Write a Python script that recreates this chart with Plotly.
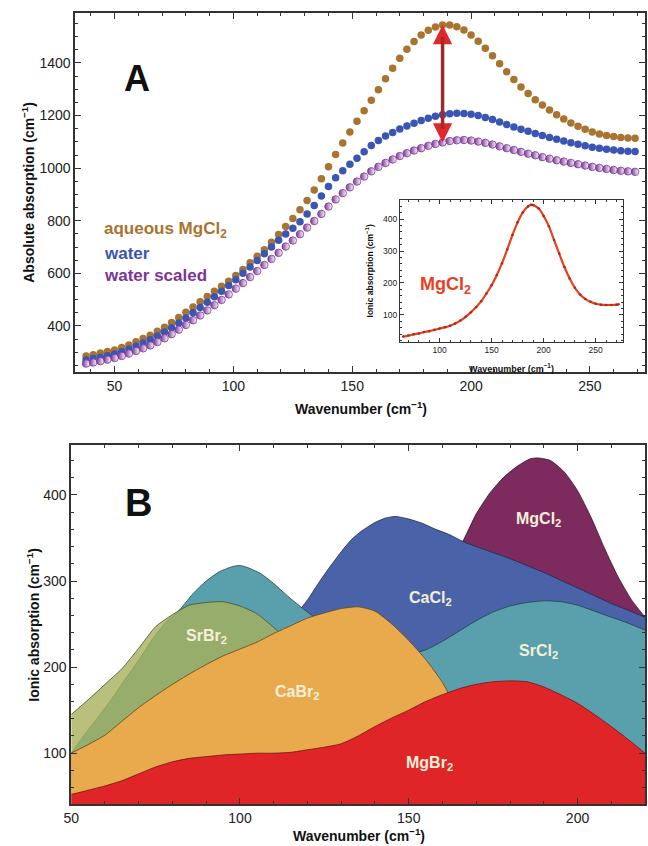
import plotly.graph_objects as go

W, H = 648, 846

# ---------------- Panel A data (absolute absorption, cm^-1) ----------------
wn_a = [38, 41, 44, 47, 50, 53, 56, 59, 62, 65,
        68, 71, 74, 77, 80, 83, 86, 89, 92, 95,
        98, 101, 104, 107, 110, 113, 116, 119, 122, 125,
        128, 131, 134, 137, 140, 143, 146, 149, 152, 155,
        158, 161, 164, 167, 170, 173, 176, 179, 182, 185,
        188, 191, 194, 197, 200, 203, 206, 209, 212, 215,
        218, 221, 224, 227, 230, 233, 236, 239, 242, 245,
        248, 251, 254, 257, 260, 263, 266, 269]

aqueous_mgcl2 = [286, 291, 297, 303, 309, 318, 328, 340, 352, 365,
                 380, 395, 413, 432, 452, 472, 492, 512, 532, 551,
                 570, 592, 615, 640, 665, 690, 718, 748, 778, 809,
                 842, 877, 917, 960, 1005, 1052, 1096, 1138, 1178, 1218,
                 1258, 1298, 1340, 1380, 1418, 1452, 1482, 1506, 1524, 1537,
                 1544, 1544, 1538, 1525, 1506, 1483, 1456, 1427, 1397, 1367,
                 1337, 1309, 1284, 1260, 1240, 1221, 1203, 1187, 1172, 1159,
                 1148, 1138, 1130, 1124, 1120, 1117, 1115, 1114]

water = [271, 276, 281, 287, 293, 302, 312, 323, 335, 348,
         362, 377, 393, 411, 430, 450, 470, 490, 511, 532,
         554, 576, 600, 624, 649, 675, 700, 726, 750, 772,
         796, 826, 858, 894, 930, 964, 990, 1015, 1038, 1062,
         1086, 1105, 1122, 1136, 1149, 1160, 1171, 1181, 1190, 1197,
         1203, 1207, 1209, 1208, 1205, 1200, 1193, 1185, 1176, 1166,
         1157, 1148, 1140, 1132, 1124, 1117, 1110, 1103, 1097, 1091,
         1085, 1080, 1076, 1072, 1069, 1066, 1064, 1063]

water_scaled = [257, 261, 266, 272, 278, 286, 295, 305, 315, 326,
                339, 353, 369, 386, 404, 422, 440, 459, 479, 499,
                520, 542, 563, 586, 609, 632, 655, 678, 702, 725,
                749, 774, 799, 826, 854, 881, 905, 927, 949, 968,
                988, 1005, 1020, 1033, 1046, 1057, 1067, 1076, 1085, 1092,
                1098, 1103, 1106, 1107, 1105, 1101, 1096, 1090, 1083, 1076,
                1069, 1062, 1055, 1049, 1042, 1036, 1030, 1025, 1020, 1015,
                1010, 1005, 1001, 997, 993, 990, 988, 986]

# Inset: ionic absorption of MgCl2
wn_inset = [65, 70, 75, 80, 85, 90, 95, 100, 105, 110, 115, 120, 125, 130, 135,
            140, 145, 150, 155, 160, 165, 170, 175, 180, 185, 188, 190, 195, 200,
            205, 210, 215, 220, 225, 230, 235, 240, 245, 250, 255, 260, 265, 270, 272]
ionic_mgcl2 = [32, 35, 39, 42, 46, 49, 53, 57, 61, 66, 73, 82, 94, 108, 124,
               143, 167, 193, 225, 262, 305, 350, 390, 421, 440, 445, 444, 434, 410,
               378, 335, 292, 250, 214, 185, 164, 150, 141, 135, 132, 131, 131, 132, 133]

# ---------------- Panel B data (ionic absorption, cm^-1) ----------------
mgcl2_x = [164, 166, 170, 174, 178, 182, 186, 188, 190, 192, 196, 200, 204, 208, 212, 216, 220]
mgcl2_y = [335, 346, 378, 402, 420, 433, 442, 443, 442, 440, 427, 405, 374, 338, 305, 278, 258]

cacl2_x = [118, 120, 123, 126, 130, 133, 136, 140, 143, 146, 150, 154, 158, 162, 166,
           170, 175, 180, 185, 190, 195, 200, 205, 210, 215, 220]
cacl2_y = [268, 278, 296, 313, 334, 348, 358, 368, 373, 375, 372, 367, 360, 354, 346,
           340, 333, 326, 318, 310, 301, 292, 283, 274, 266, 258]

srcl2_x = [50, 54, 58, 62, 66, 70, 74, 78, 82, 86, 90, 94, 98, 100, 102, 106, 110, 114,
           118, 122, 126, 130, 135, 140, 145, 150, 155, 160, 165, 170, 175, 180, 185,
           190, 195, 200, 205, 210, 215, 220]
srcl2_y = [100, 122, 142, 163, 186, 208, 232, 252, 266, 285, 300, 311, 317, 318, 316, 309,
           297, 283, 270, 258, 246, 234, 223, 216, 213, 215, 220, 230, 242, 254, 264, 271,
           275, 277, 276, 272, 265, 258, 251, 243]

srbr2_x = [50, 55, 60, 65, 70, 75, 80, 85, 90, 95, 100, 105, 110, 115]
srbr2_y = [145, 162, 180, 198, 222, 247, 261, 272, 275, 276, 271, 262, 246, 228]

cabr2_x = [50, 55, 60, 65, 70, 75, 80, 85, 90, 95, 100, 105, 110, 115, 120, 125, 130,
           135, 140, 145, 150, 155, 160, 163]
cabr2_y = [100, 110, 121, 137, 153, 167, 180, 192, 203, 213, 221, 229, 239, 248, 257,
           263, 268, 270, 265, 250, 231, 209, 182, 160]

mgbr2_x = [50, 55, 60, 65, 70, 75, 80, 85, 90, 95, 100, 105, 110, 115, 120, 125, 130,
           135, 140, 145, 150, 155, 160, 165, 170, 175, 180, 185, 190, 195, 200, 205,
           210, 215, 220]
mgbr2_y = [52, 57, 62, 68, 76, 84, 90, 94, 96, 98, 99, 100, 100, 101, 104, 107, 111,
           120, 131, 141, 150, 160, 168, 175, 180, 183, 184, 183, 177, 168, 158, 145,
           131, 116, 100]

# ---------------- styling ----------------
FONT = "Liberation Sans, Arial, sans-serif"
C_BROWN = "#a8742f"
C_BLUE = "#3b55b4"
C_PURPLE = "#7b3596"
C_RED_INSET = "#e8401f"
FRAME = "#333333"

fig = go.Figure()

# Panel A traces
fig.add_trace(go.Scatter(x=wn_a, y=aqueous_mgcl2, mode="markers", xaxis="x", yaxis="y",
                         marker=dict(size=7.5, color=C_BROWN), name="aqueous MgCl2"))
fig.add_trace(go.Scatter(x=wn_a, y=water, mode="markers", xaxis="x", yaxis="y",
                         marker=dict(size=7.5, color=C_BLUE), name="water"))
fig.add_trace(go.Scatter(x=wn_a, y=water_scaled, mode="markers", xaxis="x", yaxis="y",
                         marker=dict(size=7.5, color=C_PURPLE,
                                     gradient=dict(type="horizontal", color="white"),
                                     line=dict(color=C_PURPLE, width=0.8)),
                         name="water scaled"))

# Inset trace
fig.add_trace(go.Scatter(x=wn_inset, y=ionic_mgcl2, mode="lines+markers", xaxis="x2", yaxis="y2",
                         line=dict(color=C_RED_INSET, width=2.2, shape="spline"),
                         marker=dict(size=2.5, color="#a82a18"), name="MgCl2 inset"))

# Panel B traces (back to front)
b_series = [
    (mgcl2_x, mgcl2_y, "#7d2a5f", "rgba(50,20,40,0.8)", "MgCl2"),
    (cacl2_x, cacl2_y, "#4a63a8", "rgba(30,40,80,0.8)", "CaCl2"),
    (srcl2_x, srcl2_y, "#5a9fac", "rgba(30,70,70,0.8)", "SrCl2"),
    (srbr2_x, srbr2_y, "rgba(166,176,91,0.8)", "rgba(70,80,40,0.8)", "SrBr2"),
    (cabr2_x, cabr2_y, "#e9a94d", "rgba(90,70,30,0.8)", "CaBr2"),
    (mgbr2_x, mgbr2_y, "#df2528", "rgba(110,20,20,0.8)", "MgBr2"),
]
for xs, ys, fc, lc, nm in b_series:
    fig.add_trace(go.Scatter(x=xs, y=ys, mode="lines", fill="tozeroy", fillcolor=fc,
                             line=dict(color=lc, width=1, shape="spline", smoothing=0.6),
                             xaxis="x3", yaxis="y3", name=nm))


def px_x(p):
    return p / W


def px_y(p):
    return 1 - p / H


def frame_axis(**kw):
    base = dict(showline=True, linecolor=FRAME, linewidth=1.5, mirror="allticks",
                ticks="inside", ticklen=6, tickwidth=1, tickcolor=FRAME,
                showgrid=False, zeroline=False,
                tickfont=dict(family=FONT, size=14, color="#222"))
    base.update(kw)
    return base


layout = dict(
    width=W, height=H, margin=dict(l=0, r=0, t=0, b=0),
    paper_bgcolor="white", plot_bgcolor="white", showlegend=False,
    font=dict(family=FONT, color="#222"),
    xaxis=frame_axis(domain=[px_x(68), px_x(645)], anchor="y", range=[33.4, 273.2],
                     tickvals=[50, 100, 150, 200, 250],
                     minor=dict(dtick=10, ticklen=3, ticks="inside", tickcolor=FRAME)),
    yaxis=frame_axis(domain=[px_y(372), px_y(13)], anchor="x", range=[225, 1590],
                     tickvals=[400, 600, 800, 1000, 1200, 1400],
                     minor=dict(dtick=50, ticklen=3, ticks="inside", tickcolor=FRAME)),
    xaxis2=frame_axis(domain=[px_x(397), px_x(623)], anchor="y2", range=[62, 276.6],
                      tickvals=[100, 150, 200, 250], ticklen=4, linewidth=1.2,
                      tickfont=dict(family=FONT, size=8.5, color="#222"),
                      minor=dict(dtick=10, ticklen=2, ticks="inside", tickcolor=FRAME)),
    yaxis2=frame_axis(domain=[px_y(342), px_y(200)], anchor="x2", range=[15, 460],
                      tickvals=[100, 200, 300, 400], ticklen=4, linewidth=1.2,
                      tickfont=dict(family=FONT, size=8.5, color="#222"),
                      minor=dict(dtick=20, ticklen=2, ticks="inside", tickcolor=FRAME)),
    xaxis3=frame_axis(domain=[px_x(64), px_x(645)], anchor="y3", range=[50, 220],
                      tickvals=[50, 100, 150, 200],
                      minor=dict(dtick=10, ticklen=3, ticks="inside", tickcolor=FRAME)),
    yaxis3=frame_axis(domain=[px_y(804), px_y(445)], anchor="x3", range=[41, 458],
                      tickvals=[100, 200, 300, 400],
                      minor=dict(dtick=20, ticklen=3, ticks="inside", tickcolor=FRAME)),
)
fig.update_layout(**layout)

ann = []


def text_ann(x, y, text, size, color="#111", bold=True, angle=0, xref="paper", yref="paper",
             xanchor="center"):
    ann.append(dict(x=x, y=y, xref=xref, yref=yref, text=(f"<b>{text}</b>" if bold else text),
                    showarrow=False, textangle=angle, xanchor=xanchor, yanchor="middle",
                    font=dict(family=FONT, size=size, color=color)))


# axis titles
text_ann(px_x(357), px_y(408), "Wavenumber (cm<sup>−1</sup>)", 14)
text_ann(px_x(20), px_y(192), "Absolute absorption (cm<sup>−1</sup>)", 14, angle=-90)
text_ann(px_x(510), px_y(368), "Wavenumber (cm<sup>−1</sup>)", 9)
text_ann(px_x(367), px_y(271), "Ionic absorption (cm<sup>−1</sup>)", 8.5, angle=-90)
text_ann(px_x(355), px_y(835), "Wavenumber (cm<sup>−1</sup>)", 14)
text_ann(px_x(25), px_y(625), "Ionic absorption (cm<sup>−1</sup>)", 14, angle=-90)

# panel letters
text_ann(px_x(131), px_y(78), "A", 36)
text_ann(px_x(132), px_y(503), "B", 38)

# legend-like labels in panel A
text_ann(px_x(95), px_y(230), "aqueous MgCl<sub>2</sub>", 17, color=C_BROWN, xanchor="left")
text_ann(px_x(95), px_y(253), "water", 17, color=C_BLUE, xanchor="left")
text_ann(px_x(95), px_y(275), "water scaled", 17, color=C_PURPLE, xanchor="left")

# inset label
text_ann(px_x(443), px_y(285), "MgCl<sub>2</sub>", 18, color=C_RED_INSET)

# panel B labels
LBL = "#f4efd6"
for lx, ly, lt in [(90, 236, "SrBr<sub>2</sub>"), (117, 171, "CaBr<sub>2</sub>"),
                   (156, 88, "MgBr<sub>2</sub>"), (156.5, 280, "CaCl<sub>2</sub>"),
                   (188.5, 218, "SrCl<sub>2</sub>"), (188.5, 371, "MgCl<sub>2</sub>")]:
    text_ann(lx, ly, lt, 16, color=LBL, xref="x3", yref="y3")

# double arrow between aqueous MgCl2 peak and scaled water
i_pk = aqueous_mgcl2.index(max(aqueous_mgcl2))
ax_x = wn_a[i_pk]
top = aqueous_mgcl2[i_pk]
bot = water_scaled[i_pk]
for tip, tail in [(top, top - 55), (bot, bot + 55)]:
    ann.append(dict(x=ax_x, y=tip, ax=ax_x, ay=tail, xref="x", yref="y", axref="x", ayref="y",
                    showarrow=True, arrowhead=2, arrowsize=1.1, arrowwidth=3.5,
                    arrowcolor="#e3262a", text=""))
ann.append(dict(x=ax_x, y=top - 45, ax=ax_x, ay=bot + 45, xref="x", yref="y", axref="x",
                ayref="y", showarrow=True, arrowhead=0, arrowwidth=3.5,
                arrowcolor="#9e2a2b", text=""))

fig.update_layout(annotations=ann)
fig.write_html("out.html")
